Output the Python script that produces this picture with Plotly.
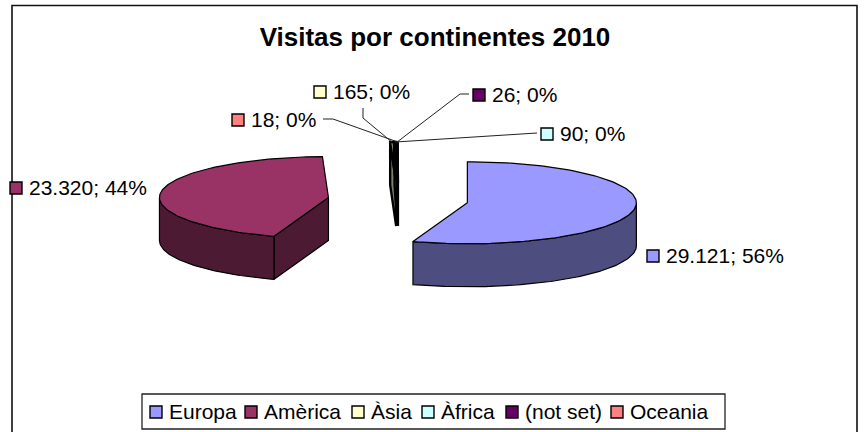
import numpy as np
import plotly.graph_objects as go

categories = ["Europa", "Amèrica", "Àsia", "Àfrica", "(not set)", "Oceania"]
visits = [29121, 23320, 165, 90, 26, 18]
value_labels = ["29.121", "23.320", "165", "90", "26", "18"]
percent_labels = [56, 44, 0, 0, 0, 0]
top_colors = ["#9999FF", "#993366", "#FFFFCC", "#CCFFFF", "#660066", "#FF8080"]
side_colors = ["#4D4D80", "#4D1A33", "#80806A", "#6A8080", "#330033", "#804040"]

# label squares (pixel layout)
label_x = [653, 16, 320, 547, 479, 238]
label_y = [256, 188, 92, 134, 95, 120]
# leader elbow / end points (pixel layout); None = no leader
leader_x = [None, None, [363, 363], [537], [469, 460], [323, 333]]
leader_y = [None, None, [108, 118], [133], [94, 94], [119, 119]]
# legend layout
legend_sq_x = [156, 251, 358, 428, 512, 617]
legend_y = 412

CX, CY = 398.0, 200.0
RX, RY, DEPTH = 169.0, 41.0, 43.0
EX, EY = 70.3, 17.0
W, H = 864, 432
TEXT_DX, TEXT_DY = 13, 1.5

total = sum(visits)
fig = go.Figure()


def poly(xs, ys, color, name, width):
    fig.add_trace(go.Scatter(x=xs, y=ys, mode="lines", fill="toself", fillcolor=color,
                             line=dict(color="#000000", width=width), showlegend=False,
                             hoverinfo="skip", name=name))


start = 0.0
rims = []
for name, v, top, side in zip(categories, visits, top_colors, side_colors):
    end = start + v / total * 360.0
    mid = np.radians((start + end) / 2)
    cx = CX + EX * np.sin(mid)
    cy = CY - EY * np.cos(mid)
    px = lambda a: cx + RX * np.sin(np.radians(a))
    py = lambda a: cy - RY * np.cos(np.radians(a))
    lw = 2.4 if v / total < 0.01 else 1.2
    # start cut wall faces the viewer
    if 180 < start < 360:
        poly([cx, px(start), px(start), cx, cx],
             [cy, py(start), py(start) + DEPTH, cy + DEPTH, cy], side, name, lw)
    # front rim wall
    a0, a1 = max(start, 90.0), min(end, 270.0)
    if a1 > a0:
        arc = np.linspace(a0, a1, 80)
        poly(np.concatenate([px(arc), px(arc[::-1]), [px(arc[0])]]),
             np.concatenate([py(arc), py(arc[::-1]) + DEPTH, [py(arc[0])]]), side, name, lw)
    arc = np.linspace(start, end, 120)
    poly(np.concatenate([[cx], px(arc), [cx]]),
         np.concatenate([[cy], py(arc), [cy]]), top, name, lw)
    rims.append((float(px((start + end) / 2)), float(py((start + end) / 2))))
    start = end

# leader lines
for lx, ly, rim in zip(leader_x, leader_y, rims):
    if lx is None:
        continue
    fig.add_trace(go.Scatter(x=lx + [rim[0]], y=ly + [rim[1]], mode="lines",
                             line=dict(color="#222222", width=1), showlegend=False,
                             hoverinfo="skip"))

marker = lambda c: dict(symbol="square", size=12, color=c, line=dict(color="#000000", width=1.4))
label_font = dict(family="Liberation Sans, Arial, sans-serif", size=21, color="#000000")


def keyed_label(x, y, color, text, name):
    fig.add_trace(go.Scatter(x=[x], y=[y], mode="markers", marker=marker(color),
                             showlegend=False, name=name, hoverinfo="skip"))
    fig.add_trace(go.Scatter(x=[x + TEXT_DX], y=[y + TEXT_DY], mode="text", text=[text],
                             textposition="middle right", textfont=label_font,
                             showlegend=False, name=name, hoverinfo="skip"))


# data labels
for i, name in enumerate(categories):
    keyed_label(label_x[i], label_y[i], top_colors[i],
                f"{value_labels[i]}; {percent_labels[i]}%", name)

# legend entries
for i, name in enumerate(categories):
    keyed_label(legend_sq_x[i], legend_y, top_colors[i], name, name)

fig.add_shape(type="rect", xref="x", yref="y", x0=142, x1=725, y0=394, y1=429,
              line=dict(color="#222222", width=1.3), fillcolor="rgba(0,0,0,0)", layer="below")
fig.add_shape(type="rect", xref="x", yref="y", x0=12, x1=857, y0=5.5, y1=440,
              line=dict(color="#111111", width=1.6), fillcolor="rgba(0,0,0,0)", layer="below")

fig.update_layout(
    width=W, height=H, autosize=False,
    margin=dict(l=0, r=0, t=0, b=0, pad=0),
    paper_bgcolor="#FFFFFF", plot_bgcolor="#FFFFFF",
    showlegend=False,
    title=dict(text="<b>Visitas por continentes 2010</b>", x=435 / W, xanchor="center",
               y=1 - 37 / H, yanchor="middle",
               font=dict(family="Liberation Sans, Arial, sans-serif", size=26, color="#000000")),
    xaxis=dict(range=[0, W], visible=False, fixedrange=True),
    yaxis=dict(range=[H, 0], visible=False, fixedrange=True),
)
fig.write_html("out.html", config={"displayModeBar": False},
               post_script="document.body.style.margin='0';")
